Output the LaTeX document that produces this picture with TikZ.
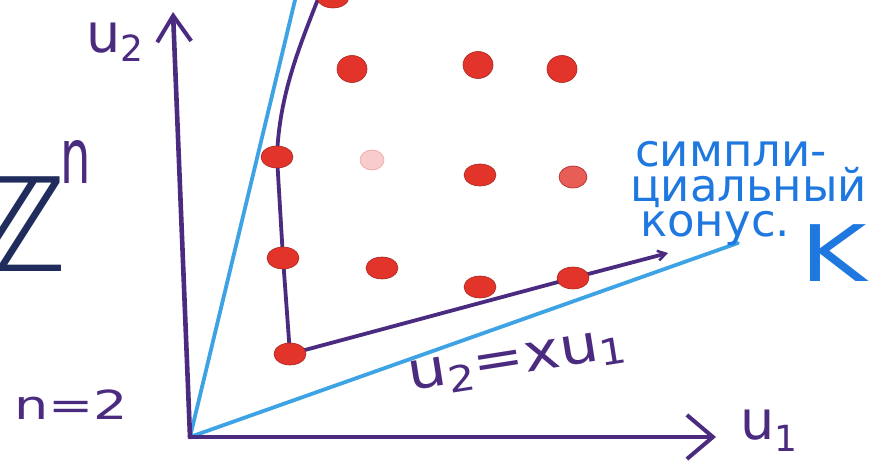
\documentclass[tikz,border=0pt]{standalone}
\usepackage{fontspec}
\setmainfont{DejaVu Sans}
\usetikzlibrary{arrows.meta,shapes.geometric}
\definecolor{pen}{HTML}{4B2B80}
\definecolor{cone}{HTML}{3EA3E4}
\definecolor{ink}{HTML}{1E78E0}
\definecolor{dotred}{HTML}{E2342A}
\definecolor{zink}{HTML}{1F2C5C}
\newcommand{\fs}[1]{\fontsize{#1}{#1}\selectfont}
\begin{document}
\begin{tikzpicture}[x=1pt,y=-1pt,
  axisline/.style={draw=pen, line width=4.6pt, line cap=round, line join=round},
  coneline/.style={draw=cone, line width=3.8pt, line cap=round},
  latpt/.style={ellipse, fill=dotred, draw=dotred!75!black, line width=0.6pt,
                minimum width=32pt, minimum height=22pt, inner sep=0pt},
  roundpt/.style={latpt, minimum width=30pt, minimum height=27pt},
  faintpt/.style={latpt, fill=dotred!25, draw=dotred!45, minimum width=24pt, minimum height=20pt},
  pentext/.style={text=pen, inner sep=0pt},
  inktext/.style={text=ink, inner sep=0pt}
]
\useasboundingbox (0,0) rectangle (880,470);
\fill[white] (0,0) rectangle (880,470);

% named points
\coordinate (O) at (190,437);
\coordinate (Yend) at (173,12);
\coordinate (Xend) at (716,437);
\coordinate (Ctop) at (296,-4);
\coordinate (Cright) at (738,243);
\coordinate (Q0) at (290,354);
\coordinate (Q1) at (283,258);
\coordinate (Q2) at (277,157);
\coordinate (Ptop) at (320,-6);
\coordinate (R3) at (573,278);
\coordinate (Rend) at (668,253);

% simplicial cone (blue rays)
\draw[coneline] (O) -- (Ctop);
\draw[coneline] (O) -- (Cright);

% axes
\draw[axisline, -{Straight Barb[length=26pt,width=44pt,line width=4pt]}] (O) -- (Xend);
\draw[axisline, -{Straight Barb[length=26pt,width=34pt,line width=4pt]}] (O) -- (Yend);

% boundary of the lattice points
\draw[axisline, line width=3.8pt] (Ptop) .. controls (300,45) and (279,95) .. (Q2) -- (Q1) -- (Q0) -- (R3);
\draw[axisline, line width=3.8pt, -{Straight Barb[length=8pt,width=10pt,line width=2.5pt]}] (R3) -- (Rend);

% lattice points
\node[latpt] (q0) at (Q0) {};
\node[latpt] (q1) at (Q1) {};
\node[latpt] (q2) at (Q2) {};
\node[latpt] (top0) at (333,-3) {};
\node[roundpt] (a1) at (352,69) {};
\node[roundpt] (a2) at (478,65) {};
\node[roundpt] (a3) at (562,69) {};
\node[faintpt] (b1) at (372,160) {};
\node[latpt] (b2) at (480,175) {};
\node[latpt, fill=dotred!80, minimum width=28pt] (b3) at (573,177) {};
\node[latpt] (c1) at (382,268) {};
\node[latpt] (c2) at (480,287) {};
\node[latpt] (r3) at (R3) {};

% labels
\node[pentext, anchor=south west] (lu2) at (86,62) {\fs{54}u\raisebox{-9pt}{\fs{36}2}};
\node[pentext, anchor=south west] (lu1) at (740,452) {\fs{54}u\raisebox{-12pt}{\fs{36}1}};
\node[pentext, anchor=south west, xscale=1.35] (ln) at (14,420) {\fs{40}n=2};
\node[pentext, rotate=9, anchor=south west, xscale=1.18] (leq) at (412,400) {\fs{52}u\raisebox{-9pt}{\fs{36}2}=xu\raisebox{-6pt}{\fs{36}1}};

\node[text=zink, inner sep=0pt, anchor=south west] (Z) at (-30,272) {\fs{130}ℤ};
\node[pentext, anchor=north west, yscale=1.6] (zn) at (60,140) {\fs{48}n};

\node[inktext, anchor=north west, align=left, font=\fs{45}, text width=260pt] (cone) at (630,141)
  {\hspace*{5pt}симпли-\\[-10pt]циальный\\[-10pt]\hspace*{10pt}конус.};
\node[inktext, anchor=south west, font=\fs{78}, xscale=1.3] (tk) at (800,282) {K};
\end{tikzpicture}
\end{document}
